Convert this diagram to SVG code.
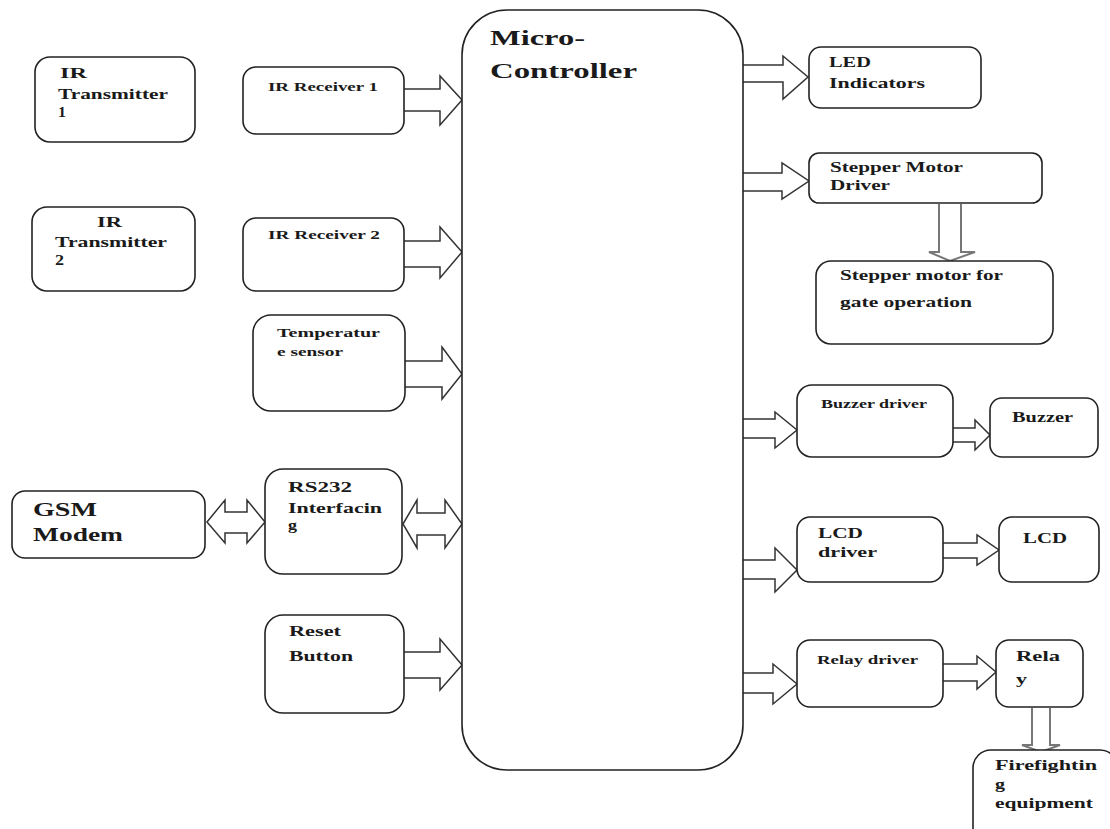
<svg xmlns="http://www.w3.org/2000/svg" width="1110" height="829" viewBox="0 0 1110 829">
<style>
.box{fill:#fff;stroke:#222;stroke-width:1.6}
.arr{fill:#fff;stroke:#333;stroke-width:1.5;stroke-linejoin:miter}
.darr{fill:#fff;stroke:#777;stroke-width:2}
text{font-family:"Liberation Serif","Times New Roman",serif;font-weight:bold;fill:#1a1a1a}
.t14{font-size:14px}
.t13{font-size:13px}
.t12{font-size:12px}
.t18{font-size:18px}
.t22{font-size:22px}
</style>
<rect width="1110" height="829" fill="#fff"/>
<g id="connectors">
<path class="arr" d="M404 89 H440 V76 L462 100 L440 125 V111 H404"/>
<path class="arr" d="M404 241 H440 V227 L462 252 L440 278 V267 H404"/>
<path class="arr" d="M405 361 H442 V347 L462 374 L442 399 V387 H405"/>
<path class="arr" d="M404 652 H440 V639 L462 665 L440 690 V678 H404"/>
<path class="arr" d="M743 65 H783 V56 L808 77 L783 99 V82 H743"/>
<path class="arr" d="M743 173 H782 V163 L809 181 L782 199 V191 H743"/>
<path class="arr" d="M743 419 H775 V412 L797 430 L775 448 V438 H743"/>
<path class="arr" d="M743 560 H775 V548 L797 570 L775 592 V579 H743"/>
<path class="arr" d="M743 673 H773 V664 L797 684 L773 704 V693 H743"/>
<path class="arr" d="M953 428 H975 V420 L990 435 L975 450 V442 H953"/>
<path class="arr" d="M943 543 H977 V535 L999 550 L977 565 V558 H943"/>
<path class="arr" d="M943 664 H977 V656 L996 672 L977 689 V681 H943"/>
<path class="darr" d="M939 204 V252 H929 L950 261 L975 252 H961 V204"/>
<path class="darr" d="M1032 708 V745 H1022 L1041 752 L1060 745 H1050 V708"/>
<path class="arr" d="M207 522 L225 500 V512 H247 V500 L265 522 L247 543 V533 H225 V543 Z"/>
<path class="arr" d="M403 524 L417 500 V513 H445 V500 L462 524 L445 548 V535 H417 V548 Z"/>
</g>
<g id="mc">
<rect class="box" x="462" y="10" width="281" height="760" rx="45"/>
<text class="t22" x="490" y="45" textLength="95" lengthAdjust="spacingAndGlyphs">Micro-</text>
<text class="t22" x="490" y="78" textLength="147" lengthAdjust="spacingAndGlyphs">Controller</text>
</g>
<g id="irtx1">
<rect class="box" x="35" y="57" width="160" height="85" rx="15"/>
<text class="t14" x="60" y="78" textLength="27" lengthAdjust="spacingAndGlyphs">IR</text>
<text class="t14" x="58" y="99" textLength="110" lengthAdjust="spacingAndGlyphs">Transmitter</text>
<text class="t14" x="58" y="117" textLength="8" lengthAdjust="spacingAndGlyphs">1</text>
</g>
<g id="irtx2">
<rect class="box" x="32" y="207" width="163" height="84" rx="15"/>
<text class="t14" x="97" y="227" textLength="25" lengthAdjust="spacingAndGlyphs">IR</text>
<text class="t14" x="55" y="247" textLength="112" lengthAdjust="spacingAndGlyphs">Transmitter</text>
<text class="t14" x="55" y="265" textLength="9" lengthAdjust="spacingAndGlyphs">2</text>
</g>
<g id="irrx1">
<rect class="box" x="243" y="67" width="161" height="67" rx="13"/>
<text class="t12" x="268" y="91" textLength="110" lengthAdjust="spacingAndGlyphs">IR Receiver 1</text>
</g>
<g id="irrx2">
<rect class="box" x="243" y="218" width="161" height="73" rx="13"/>
<text class="t12" x="268" y="239" textLength="112" lengthAdjust="spacingAndGlyphs">IR Receiver 2</text>
</g>
<g id="temp">
<rect class="box" x="253" y="315" width="152" height="96" rx="18"/>
<text class="t12" x="277" y="337" textLength="103" lengthAdjust="spacingAndGlyphs">Temperatur</text>
<text class="t12" x="277" y="356" textLength="66" lengthAdjust="spacingAndGlyphs">e sensor</text>
</g>
<g id="gsm">
<rect class="box" x="12" y="491" width="193" height="67" rx="13"/>
<text class="t18" x="33" y="516" textLength="64" lengthAdjust="spacingAndGlyphs">GSM</text>
<text class="t18" x="33" y="541" textLength="90" lengthAdjust="spacingAndGlyphs">Modem</text>
</g>
<g id="rs232">
<rect class="box" x="265" y="469" width="137" height="105" rx="18"/>
<text class="t14" x="288" y="492" textLength="64" lengthAdjust="spacingAndGlyphs">RS232</text>
<text class="t14" x="288" y="513" textLength="94" lengthAdjust="spacingAndGlyphs">Interfacin</text>
<text class="t14" x="288" y="530" textLength="9" lengthAdjust="spacingAndGlyphs">g</text>
</g>
<g id="reset">
<rect class="box" x="265" y="615" width="139" height="98" rx="18"/>
<text class="t14" x="289" y="636" textLength="52" lengthAdjust="spacingAndGlyphs">Reset</text>
<text class="t14" x="289" y="661" textLength="64" lengthAdjust="spacingAndGlyphs">Button</text>
</g>
<g id="led">
<rect class="box" x="809" y="47" width="172" height="61" rx="12"/>
<text class="t14" x="829" y="67" textLength="42" lengthAdjust="spacingAndGlyphs">LED</text>
<text class="t14" x="829" y="88" textLength="96" lengthAdjust="spacingAndGlyphs">Indicators</text>
</g>
<g id="stepdrv">
<rect class="box" x="809" y="153" width="233" height="50" rx="10"/>
<text class="t14" x="830" y="172" textLength="133" lengthAdjust="spacingAndGlyphs">Stepper Motor</text>
<text class="t14" x="830" y="190" textLength="60" lengthAdjust="spacingAndGlyphs">Driver</text>
</g>
<g id="stepmotor">
<rect class="box" x="816" y="261" width="237" height="83" rx="15"/>
<text class="t14" x="840" y="280" textLength="163" lengthAdjust="spacingAndGlyphs">Stepper motor for</text>
<text class="t14" x="840" y="307" textLength="132" lengthAdjust="spacingAndGlyphs">gate operation</text>
</g>
<g id="buzzdrv">
<rect class="box" x="797" y="385" width="156" height="72" rx="15"/>
<text class="t12" x="821" y="408" textLength="106" lengthAdjust="spacingAndGlyphs">Buzzer driver</text>
</g>
<g id="buzzer">
<rect class="box" x="990" y="398" width="108" height="59" rx="12"/>
<text class="t14" x="1012" y="422" textLength="61" lengthAdjust="spacingAndGlyphs">Buzzer</text>
</g>
<g id="lcddrv">
<rect class="box" x="797" y="517" width="146" height="65" rx="13"/>
<text class="t14" x="818" y="538" textLength="45" lengthAdjust="spacingAndGlyphs">LCD</text>
<text class="t14" x="818" y="557" textLength="59" lengthAdjust="spacingAndGlyphs">driver</text>
</g>
<g id="lcd">
<rect class="box" x="999" y="517" width="100" height="65" rx="13"/>
<text class="t14" x="1023" y="543" textLength="44" lengthAdjust="spacingAndGlyphs">LCD</text>
</g>
<g id="relaydrv">
<rect class="box" x="797" y="640" width="146" height="67" rx="13"/>
<text class="t12" x="817" y="664" textLength="101" lengthAdjust="spacingAndGlyphs">Relay driver</text>
</g>
<g id="relay">
<rect class="box" x="996" y="640" width="87" height="67" rx="13"/>
<text class="t14" x="1016" y="661" textLength="44" lengthAdjust="spacingAndGlyphs">Rela</text>
<text class="t14" x="1016" y="684" textLength="11" lengthAdjust="spacingAndGlyphs">y</text>
</g>
<g id="firefighting">
<rect class="box" x="973" y="750" width="145" height="95" rx="18"/>
<text class="t14" x="995" y="770" textLength="102" lengthAdjust="spacingAndGlyphs">Firefightin</text>
<text class="t14" x="995" y="789" textLength="10" lengthAdjust="spacingAndGlyphs">g</text>
<text class="t14" x="995" y="808" textLength="98" lengthAdjust="spacingAndGlyphs">equipment</text>
</g>
</svg>
